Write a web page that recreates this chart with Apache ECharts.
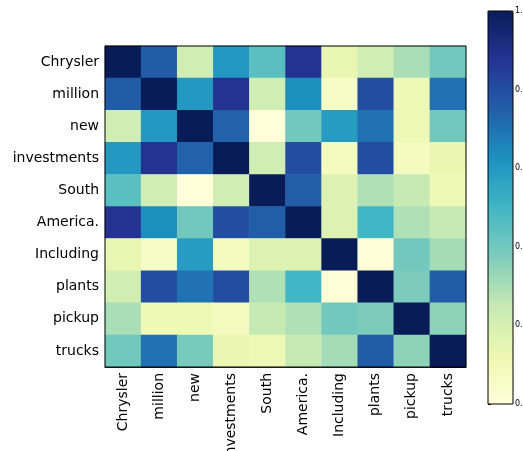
<!DOCTYPE html>
<html>
<head>
<meta charset="utf-8">
<script src="https://cdn.jsdelivr.net/npm/echarts@6/dist/echarts.min.js"></script>
<style>
  html, body { margin: 0; padding: 0; background: #fff; }
  #chart { width: 523px; height: 451px; }
</style>
</head>
<body>
<div id="chart"></div>
<script>
// words on both axes (rows top to bottom, columns left to right)
const words = ["Chrysler", "million", "new", "investments", "South", "America.", "Including", "plants", "pickup", "trucks"];

// similarity rows
const rowChrysler    = [1.00, 0.76, 0.22, 0.60, 0.45, 0.88, 0.14, 0.21, 0.30, 0.40];
const rowMillion     = [0.76, 1.00, 0.60, 0.88, 0.22, 0.63, 0.06, 0.80, 0.11, 0.70];
const rowNew         = [0.22, 0.60, 1.00, 0.74, 0.00, 0.40, 0.59, 0.70, 0.11, 0.40];
const rowInvestments = [0.60, 0.88, 0.74, 1.00, 0.22, 0.80, 0.08, 0.80, 0.08, 0.13];
const rowSouth       = [0.45, 0.22, 0.00, 0.22, 1.00, 0.75, 0.18, 0.29, 0.25, 0.11];
const rowAmerica     = [0.88, 0.63, 0.40, 0.80, 0.75, 1.00, 0.18, 0.50, 0.29, 0.25];
const rowIncluding   = [0.14, 0.06, 0.59, 0.08, 0.18, 0.18, 1.00, 0.01, 0.40, 0.31];
const rowPlants      = [0.21, 0.80, 0.70, 0.80, 0.29, 0.50, 0.01, 1.00, 0.38, 0.76];
const rowPickup      = [0.30, 0.11, 0.11, 0.08, 0.25, 0.29, 0.40, 0.38, 1.00, 0.35];
const rowTrucks      = [0.40, 0.70, 0.39, 0.13, 0.11, 0.25, 0.31, 0.76, 0.35, 1.00];

const matrix = [rowChrysler, rowMillion, rowNew, rowInvestments, rowSouth,
                rowAmerica, rowIncluding, rowPlants, rowPickup, rowTrucks];

// colorbar ticks
const barTicks = [0, 0.2, 0.4, 0.6, 0.8, 1.0];

const ylgnbu = ["#ffffd9", "#edf8b1", "#c7e9b4", "#7fcdbb", "#41b6c4",
                "#1d91c0", "#225ea8", "#253494", "#081d58"];

const cells = [];
matrix.forEach((row, i) => {
  row.forEach((v, j) => cells.push([j, i, v]));
});

const font = "DejaVu Sans";
const chart = echarts.init(document.getElementById("chart"));

chart.setOption({
  animation: false,
  backgroundColor: "#fff",
  grid: [
    {left: 105, top: 46, width: 361, height: 321, show: true, outerBoundsMode: "none",
     borderColor: "#000", borderWidth: 1, backgroundColor: "transparent", z: 5},
    {left: 488, top: 11, width: 25, height: 393, show: true, outerBoundsMode: "none",
     borderColor: "#000", borderWidth: 1, backgroundColor: "transparent", z: 10}
  ],
  xAxis: [
    {
      type: "category", data: words, gridIndex: 0,
      axisLine: {lineStyle: {color: "#000"}},
      axisTick: {alignWithLabel: true, length: 4, lineStyle: {color: "#000"}},
      axisLabel: {rotate: 90, fontFamily: font, fontSize: 14, color: "#000", margin: 6, interval: 0},
      splitLine: {show: false}
    },
    {
      type: "value", gridIndex: 1, show: false, min: 0, max: 1
    }
  ],
  yAxis: [
    {
      type: "category", data: words, gridIndex: 0, inverse: true,
      axisLine: {lineStyle: {color: "#000"}},
      axisTick: {alignWithLabel: true, length: 4, lineStyle: {color: "#000"}},
      axisLabel: {fontFamily: font, fontSize: 14, color: "#000", margin: 6, interval: 0},
      splitLine: {show: false}
    },
    {
      type: "value", gridIndex: 1, position: "right", min: 0, max: 1, interval: 0.2,
      axisLine: {show: false},
      axisTick: {show: true, length: 3, lineStyle: {color: "#000"}},
      axisLabel: {fontFamily: font, fontSize: 8, color: "#000", margin: 2,
                  hideOverlap: false,
                  formatter: v => barTicks.includes(+v.toFixed(1)) ? v.toFixed(1) : ""},
      splitLine: {show: false}
    }
  ],
  visualMap: {
    type: "continuous",
    min: 0, max: 1,
    seriesIndex: 0,
    calculable: false,
    orient: "vertical",
    left: 488, top: 11,
    padding: 0,
    itemWidth: 25, itemHeight: 393,
    text: null,
    showLabel: false,
    inRange: {color: ylgnbu}
  },
  series: [{
    type: "heatmap",
    xAxisIndex: 0, yAxisIndex: 0,
    data: cells,
    itemStyle: {borderWidth: 0}
  }]
});
</script>
</body>
</html>
